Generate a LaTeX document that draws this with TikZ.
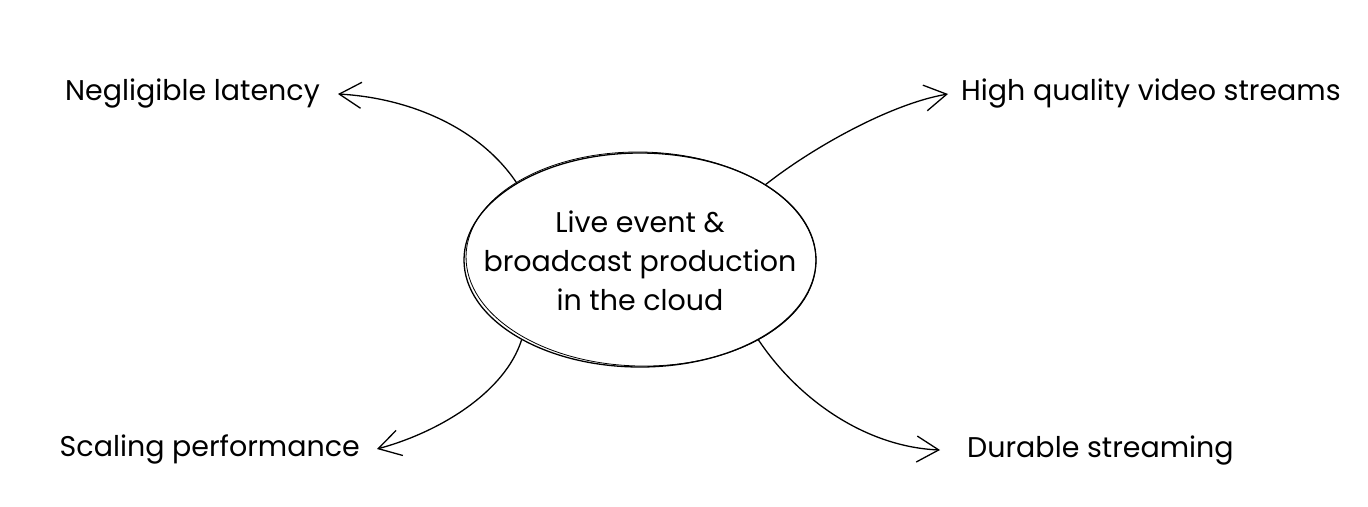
\documentclass[tikz,border=0pt]{standalone}
\usepackage{fontspec}
\setmainfont{Poppins}
\usetikzlibrary{arrows.meta,shapes.geometric}
\begin{document}
\begin{tikzpicture}[x=1pt,y=-1pt,
  ink/.style={line width=1.3pt,line cap=round,line join=round},
  conn/.style={ink,-{Straight Barb[length=22pt,width=26pt,line width=1.3pt]}},
  lbl/.style={font=\fontsize{28.5}{34}\selectfont,inner ysep=0pt},
  hub/.style={ellipse,draw,ink,minimum width=352pt,minimum height=214pt,inner sep=0pt}]
\useasboundingbox (0,0) rectangle (1368,506);
\fill[white] (0,0) rectangle (1368,506);
\node[hub] (c) at (640,260) {};
\draw[line width=0.8pt,rotate around={-1:(640,260)}] (641,259) ellipse [x radius=175, y radius=107];
\node[font=\fontsize{28.5}{39}\selectfont,align=center] (t) at (640,261) {Live event \&\\broadcast production\\in the cloud};
\node[lbl,anchor=east,inner xsep=18pt] (nl) at (338,94) {Negligible latency};
\node[lbl,anchor=west,inner xsep=13pt] (hq) at (948,94) {High quality video streams};
\node[lbl,anchor=east,inner xsep=17pt] (sp) at (377,449) {Scaling performance};
\node[lbl,anchor=west,inner xsep=27pt] (ds) at (940,450) {Durable streaming};
\draw[conn] (c.148) .. controls (480,128) and (410,98) .. (nl.east);
\draw[conn] (c.31) .. controls (812,148) and (890,104) .. (hq.west);
\draw[conn] (c.214) .. controls (505,392) and (440,432) .. (sp.east);
\draw[conn] (c.326) .. controls (800,402) and (868,447) .. (ds.west);
\end{tikzpicture}
\end{document}
